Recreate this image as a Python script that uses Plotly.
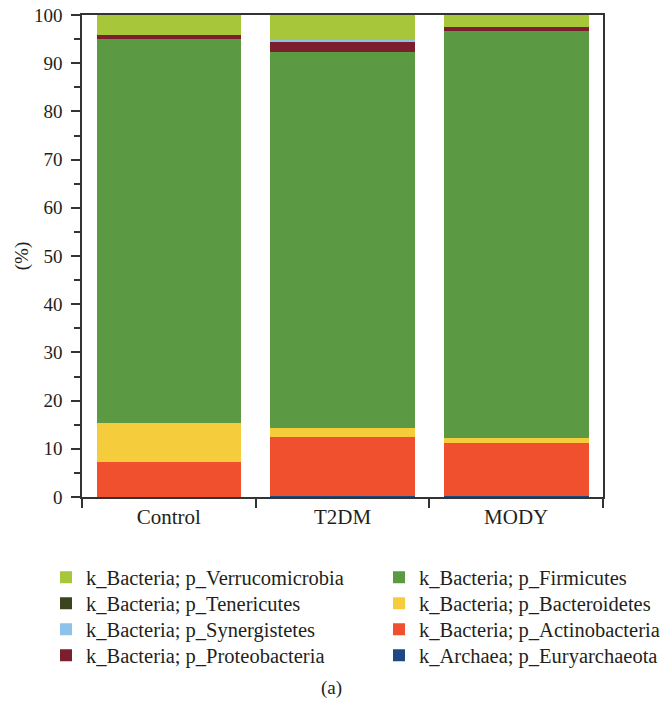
import plotly.graph_objects as go

categories = ["Control", "T2DM", "MODY"]

# stacked from bottom to top
phyla = [
    "k_Archaea; p_Euryarchaeota",
    "k_Bacteria; p_Actinobacteria",
    "k_Bacteria; p_Bacteroidetes",
    "k_Bacteria; p_Firmicutes",
    "k_Bacteria; p_Proteobacteria",
    "k_Bacteria; p_Synergistetes",
    "k_Bacteria; p_Tenericutes",
    "k_Bacteria; p_Verrucomicrobia",
]
euryarchaeota = [0.0, 0.12, 0.12]
actinobacteria = [7.3, 12.35, 11.0]
bacteroidetes = [8.05, 1.85, 1.1]
firmicutes = [79.65, 78.1, 84.5]
proteobacteria = [0.85, 2.1, 0.6]
synergistetes = [0.05, 0.3, 0.05]
tenericutes = [0.05, 0.05, 0.05]
verrucomicrobia = [4.05, 5.13, 2.58]

values = [euryarchaeota, actinobacteria, bacteroidetes, firmicutes,
          proteobacteria, synergistetes, tenericutes, verrucomicrobia]
colors = ["#1B4A80", "#F0502E", "#F5CD3C", "#5B9A42",
          "#7B1E2E", "#8DC3EA", "#3A4520", "#A8C639"]
# legend grid cell (column, row) of each phylum
legend_cells = [(1, 3), (1, 2), (1, 1), (1, 0), (0, 3), (0, 2), (0, 1), (0, 0)]

FONT = "Liberation Serif"
TXT = "#231F20"

W, H = 662, 712
ML, MR, MT, MB = 82, 59, 15, 215
PW, PH = W - ML - MR, H - MT - MB
col_left_px = [46, 379]          # legend box left edge (px)
row_center_px = [577.5, 603.5, 629.5, 655.5]

fig = go.Figure()
legends = {}
for i, (name, vals, col, cell) in enumerate(zip(phyla, values, colors, legend_cells)):
    key = "legend" if i == 0 else f"legend{i + 1}"
    fig.add_trace(go.Bar(
        x=categories, y=vals, name=name,
        marker=dict(color=col, line=dict(width=0)),
        legend=key,
    ))
    c, r = cell
    legends[key] = dict(
        x=(col_left_px[c] - ML) / PW, xanchor="left",
        y=(MT + PH - row_center_px[r]) / PH, yanchor="middle",
        font=dict(family=FONT, size=20.5, color=TXT),
        bgcolor="rgba(0,0,0,0)", borderwidth=0,
    )

fig.update_layout(
    width=W, height=H,
    barmode="stack", bargap=0.167,
    paper_bgcolor="white", plot_bgcolor="white",
    margin=dict(l=ML, r=MR, t=MT, b=MB, autoexpand=False),
    font=dict(family=FONT, size=20, color=TXT),
    showlegend=True,
    annotations=[dict(
        text="(a)", xref="paper", yref="paper",
        x=(331 - ML) / PW, y=(MT + PH - 688) / PH,
        xanchor="center", yanchor="middle", showarrow=False,
        font=dict(family=FONT, size=19, color=TXT),
    )],
    **legends,
)

fig.update_yaxes(
    range=[0, 100], tickvals=list(range(0, 101, 10)),
    ticks="outside", ticklen=9, tickwidth=1.5, tickcolor="#333",
    minor=dict(dtick=5, ticks="outside", ticklen=6, tickwidth=1.5, tickcolor="#333"),
    showline=True, linecolor="#333", linewidth=1.5, mirror=True,
    showgrid=False, zeroline=False, ticklabelstandoff=5,
    title=dict(text="(%)", font=dict(family=FONT, size=19, color=TXT), standoff=0),
    tickfont=dict(family=FONT, size=19, color=TXT),
)
fig.update_xaxes(
    range=[-0.5, 2.5], tickson="boundaries",
    ticks="outside", ticklen=9, tickwidth=1.5, tickcolor="#333",
    showline=True, linecolor="#333", linewidth=1.5, mirror=True,
    showgrid=False,
    tickfont=dict(family=FONT, size=21, color=TXT),
)

fig.write_html(
    "out.html",
    config={"displayModeBar": False},
    post_script="document.body.style.margin='0';document.body.style.padding='0';",
)
